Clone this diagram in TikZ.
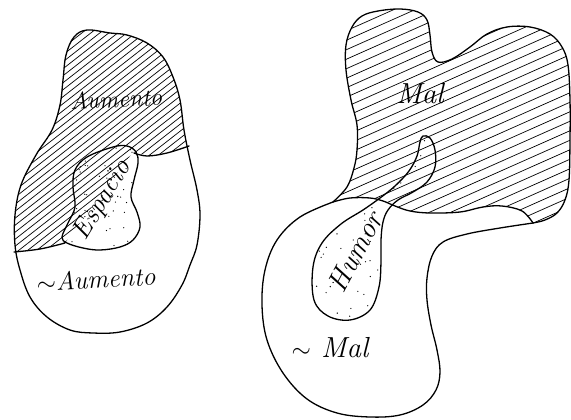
\documentclass[tikz,border=0pt]{standalone}
\begin{document}
\begin{tikzpicture}[x=1pt,y=-1pt,
  outline/.style={line width=1.3pt, line join=round, line cap=round},
  hatchline/.style={line width=0.7pt},
  dotfill/.style={fill=black},
  lbl/.style={font=\fontsize{24}{28}\selectfont\itshape, inner sep=0pt},
  biglbl/.style={font=\fontsize{29}{33}\selectfont\itshape, inner sep=0pt}]
\useasboundingbox (0,0) rectangle (571,420);
\fill[white] (0,0) rectangle (571,420);

\def\leftblob{plot[smooth cycle, tension=0.6] coordinates {
 (87,30) (110,33) (127,35) (147,43) (163,57) (173,77) (180,100) (184,130)
 (190,160) (197,190) (200,215) (197,245) (190,265) (182,285) (167,307)
 (147,323) (120,332) (93,333) (70,330) (47,317) (30,297) (20,270) (15,245)
 (15,215) (21,185) (36,155) (52,130) (60,105) (63,80) (66,55) (74,37)}}
\def\espacio{plot[smooth cycle, tension=0.6] coordinates {
 (113,147) (127,146) (136,152) (138,163) (134,180) (131,197) (137,212)
 (140,227) (133,240) (120,247) (100,250) (83,248) (67,243) (62,237)
 (68,223) (75,207) (73,187) (75,170) (87,157)}}
\def\malupper{(333,202) (347,187) (354,168) (357,150) (357,125) (351,100)
 (346,70) (346,45) (352,27) (362,16) (378,11) (400,9) (418,12) (427,20)
 (430,35) (432,52) (438,62) (452,59) (470,47) (487,34) (507,27) (530,27)
 (550,34) (562,47) (568,65) (570,100) (570,140) (569,180) (565,200)
 (557,213) (545,220) (533,223)}
\def\mallower{(533,223) (522,211) (502,206) (483,207) (460,212) (430,213)
 (410,211) (395,206) (383,201) (370,198) (350,198) (333,202)}
\def\humor{plot[smooth cycle, tension=0.6] coordinates {
 (423,136) (430,138) (435,150) (435,167) (427,182) (413,192) (398,200)
 (388,210) (383,222) (381,240) (381,262) (379,287) (370,310) (350,320)
 (328,316) (314,300) (313,267) (322,243) (341,224) (363,210) (380,198)
 (395,186) (409,171) (417,156) (420,142)}}

% --- left: hatching of Aumento
\begin{scope}
  \clip \leftblob;
  \clip (0,0) -- (0,253) -- (14,252) -- (40,249) -- (65,243) -- (133,152)
        -- (147,156) -- (167,153) -- (190,146) -- (215,140) -- (215,0) -- cycle;
  \foreach \b in {20,27,...,440} \draw[hatchline] (0,\b) -- (220,\b-172);
\end{scope}
% --- dots of Espacio
\pgfmathsetseed{11}
\begin{scope}
  \clip \espacio;
  \foreach \i in {1,...,70} {
    \pgfmathsetmacro\px{60+82*rnd}
    \pgfmathsetmacro\py{145+106*rnd}
    \fill[dotfill] (\px,\py) circle (0.65pt);}
\end{scope}

% --- right: hatching of Mal
\begin{scope}
  \clip plot[smooth, tension=0.6] coordinates {\malupper}
        -- plot[smooth, tension=0.6] coordinates {\mallower} -- cycle;
  \foreach \b in {0,9.5,...,360} \draw[hatchline] (330,\b) -- (575,\b-109);
\end{scope}
% --- dots of Humor
\pgfmathsetseed{5}
\begin{scope}
  \clip \humor;
  \foreach \i in {1,...,100} {
    \pgfmathsetmacro\px{310+128*rnd}
    \pgfmathsetmacro\py{134+190*rnd}
    \fill[dotfill] (\px,\py) circle (0.65pt);}
\end{scope}

% --- outlines
\draw[outline] \leftblob;
\draw[outline] plot[smooth, tension=0.6] coordinates {(14,252) (40,249) (65,243)};
\draw[outline] plot[smooth, tension=0.6] coordinates {(134,153) (147,156) (167,153) (189,146)};
\draw[outline] \espacio;
\draw[outline] plot[smooth, tension=0.6] coordinates {\malupper};
\draw[outline] plot[smooth, tension=0.6] coordinates {\mallower};
\draw[outline] plot[smooth, tension=0.6] coordinates {
 (333,202) (300,217) (277,240) (265,270) (262,305) (267,340) (283,373)
 (307,399) (337,413) (370,417) (400,415) (423,405) (436,390) (440,372)
 (437,350) (431,325) (427,300) (427,278) (432,256) (443,242) (467,234)
 (500,228) (533,223)};
\draw[outline] \humor;

% --- labels
\node[lbl, rotate=3] (aum) at (116,99) {Aumento};
\node[lbl, rotate=59, font=\fontsize{27}{31}\selectfont\itshape] (esp) at (103,200) {Espacio};
\node[lbl, rotate=3, font=\fontsize{26}{30}\selectfont\itshape] (naum) at (96,279) {$\sim$Aumento};
\node[biglbl] (mal) at (420,94) {Mal};
\node[biglbl, rotate=62] (hum) at (355,252) {Humor};
\node[biglbl] (nmal) at (330,348) {$\sim$ Mal};
\end{tikzpicture}
\end{document}
